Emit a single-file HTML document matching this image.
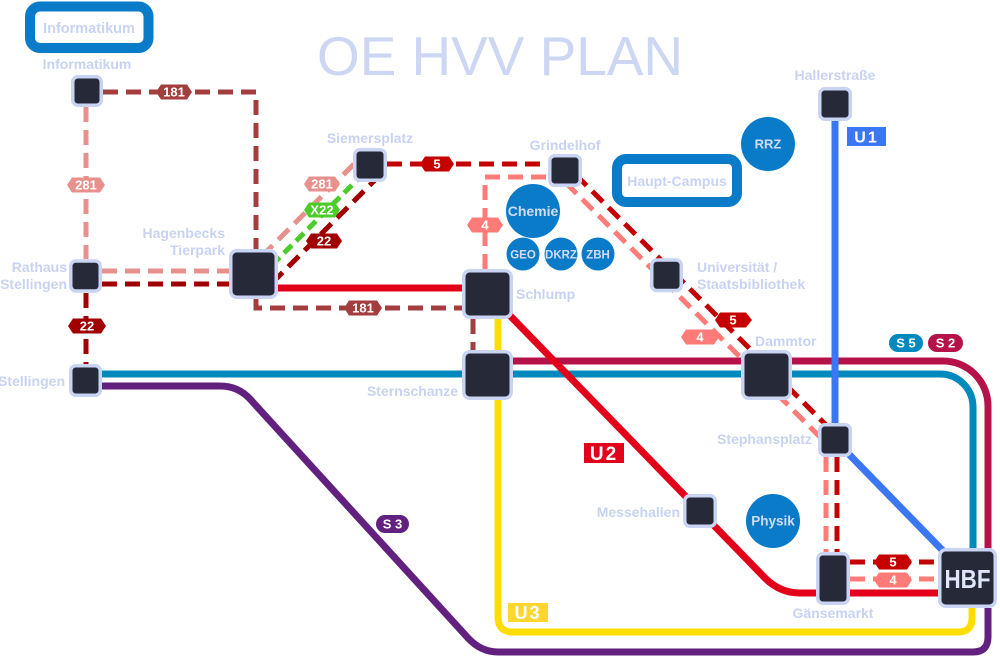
<!DOCTYPE html>
<html><head><meta charset="utf-8"><style>
html,body{margin:0;padding:0;background:#fff;}
svg{display:block;}
text{font-family:"Liberation Sans",sans-serif;}
.st{font-size:14px;font-weight:bold;fill:#c8d3f2;}
.ct{font-weight:bold;fill:#d2dcf8;text-anchor:middle;}
.lb{font-size:13px;font-weight:bold;fill:#fff;text-anchor:middle;}
.nd{fill:#262938;stroke:#c9d4f2;stroke-width:3.5;}
</style></head><body>
<svg width="1000" height="656" viewBox="0 0 1000 656" xmlns="http://www.w3.org/2000/svg">
<rect width="1000" height="656" fill="#fff"/>

<!-- title -->
<text x="500" y="75" font-size="55" fill="#cdd7f3" text-anchor="middle" textLength="366" lengthAdjust="spacingAndGlyphs">OE HVV PLAN</text>

<!-- area boxes -->
<rect x="30" y="6.5" width="118.5" height="41.5" rx="10" fill="#fff" stroke="#0a7bc8" stroke-width="10"/>
<text x="89" y="33" font-size="14.5" font-weight="bold" fill="#c8d3f2" text-anchor="middle">Informatikum</text>
<rect x="617" y="159" width="120" height="43" rx="9" fill="#fff" stroke="#0a7bc8" stroke-width="10"/>
<text x="677" y="186" font-size="14" font-weight="bold" fill="#c8d3f2" text-anchor="middle">Haupt-Campus</text>

<!-- S / U lines -->
<g fill="none" stroke-width="7">
  <path d="M102 386 H220 Q238 386 250 399 L468 638 Q481 652 498 652 H973 Q988 652 988 637 V608" stroke="#62217e"/>
  <path d="M498 319 V617 Q498 632 513 632 H958 Q972 632 972 618 V606" stroke="#ffdd00"/>
  <path d="M102 374 H940 A33 33 0 0 1 973 407 V550" stroke="#0089bd"/>
  <path d="M513 361 H943 A45 45 0 0 1 988 406 V550" stroke="#b5124a"/>
  <path d="M835 121 V440 L950 558" stroke="#3b77f5"/>
  <path d="M278 288 H465" stroke="#e2001a"/>
  <path d="M488 293 L765 578 Q780 593 800 593 H945" stroke="#e2001a"/>
</g>

<!-- bus lines -->
<g fill="none" stroke-width="5" stroke-dasharray="15 8">
  <!-- 181 -->
  <path d="M103 92 H256 V249" stroke="#a23e3e"/>
  <path d="M256 299 V308 H462" stroke="#a23e3e"/>
  <path d="M473 319 V350" stroke="#a23e3e"/>
  <!-- 281 -->
  <path d="M86 107 V259" stroke="#e8908c"/>
  <path d="M102 271 H229" stroke="#e8908c"/>
  <path d="M262 256 L360 158" stroke="#e8908c"/>
  <!-- X22 -->
  <path d="M272 265 L363 174" stroke="#4ccc2a" stroke-dasharray="11 6"/>
  <!-- 22 -->
  <path d="M86 293 V364" stroke="#a00000"/>
  <path d="M102 284 H229" stroke="#a00000"/>
  <path d="M272 283 L378 177" stroke="#a00000"/>
  <!-- 5 -->
  <path d="M387 164 H548" stroke="#c40000"/>
  <path d="M576 175 L834 433" stroke="#c40000"/>
  <path d="M837 457 V552" stroke="#c40000"/>
  <path d="M850 562 H938" stroke="#c40000"/>
  <!-- 4 -->
  <path d="M485 269 V177 H548" stroke="#ff7b78"/>
  <path d="M566 183 L824 441" stroke="#ff7b78"/>
  <path d="M826 457 V552" stroke="#ff7b78"/>
  <path d="M850 579 H938" stroke="#ff7b78"/>
</g>

<!-- bus labels -->
<g>
  <polygon points="156,92 161,84.5 187,84.5 192,92 187,99.5 161,99.5" fill="#a23e3e"/>
  <text class="lb" x="174" y="96.5">181</text>
  <polygon points="344,308 349,300.5 377,300.5 382,308 377,315.5 349,315.5" fill="#a23e3e"/>
  <text class="lb" x="363" y="312.5">181</text>
  <polygon points="67,185 72,177.5 100,177.5 105,185 100,192.5 72,192.5" fill="#e8908c"/>
  <text class="lb" x="86" y="189.5">281</text>
  <polygon points="304,184 309,176.5 335,176.5 340,184 335,191.5 309,191.5" fill="#e8908c"/>
  <text class="lb" x="322" y="188.5">281</text>
  <polygon points="304,210 309,202.5 335,202.5 340,210 335,217.5 309,217.5" fill="#4ccc2a"/>
  <text class="lb" x="322" y="214.5">X22</text>
  <polygon points="306,241 311,233.5 337,233.5 342,241 337,248.5 311,248.5" fill="#a00000"/>
  <text class="lb" x="324" y="245.5">22</text>
  <polygon points="68,326 73,318.5 101,318.5 106,326 101,333.5 73,333.5" fill="#a00000"/>
  <text class="lb" x="87" y="330.5">22</text>
  <polygon points="420,164 425,156.5 449,156.5 454,164 449,171.5 425,171.5" fill="#c40000"/>
  <text class="lb" x="437" y="168.5">5</text>
  <polygon points="467,225 472,217.5 498,217.5 503,225 498,232.5 472,232.5" fill="#ff7b78"/>
  <text class="lb" x="485" y="229.5">4</text>
  <polygon points="715,320 720,312.5 746,312.5 752,320 746,327.5 720,327.5" fill="#c40000"/>
  <text class="lb" x="733" y="324.5">5</text>
  <polygon points="681,337 686,329.5 714,329.5 719,337 714,344.5 686,344.5" fill="#ff7b78"/>
  <text class="lb" x="700" y="341.5">4</text>
  <polygon points="874,562 879,554.5 907,554.5 912,562 907,569.5 879,569.5" fill="#c40000"/>
  <text class="lb" x="893" y="566.5">5</text>
  <polygon points="874,580 879,572.5 907,572.5 912,580 907,587.5 879,587.5" fill="#ff7b78"/>
  <text class="lb" x="893" y="584.5">4</text>
</g>

<!-- line labels -->
<rect x="847" y="127" width="39" height="19" fill="#3b77f5"/>
<text x="866.5" y="142.5" font-size="16" font-weight="bold" fill="#fff" text-anchor="middle" letter-spacing="2">U1</text>
<rect x="584" y="443" width="40" height="20" fill="#e2001a"/>
<text x="604" y="460" font-size="19" font-weight="bold" fill="#fff" text-anchor="middle" letter-spacing="2">U2</text>
<rect x="508" y="603" width="40" height="19" fill="#ffd530"/>
<text x="528" y="619" font-size="18" font-weight="bold" fill="#fff" text-anchor="middle" letter-spacing="2">U3</text>
<rect x="889" y="334" width="34" height="18" rx="9" fill="#0089bd"/>
<text x="906" y="347.5" font-size="13" font-weight="bold" fill="#fff" text-anchor="middle">S 5</text>
<rect x="928" y="334" width="35" height="18" rx="9" fill="#b5124a"/>
<text x="945.5" y="347.5" font-size="13" font-weight="bold" fill="#fff" text-anchor="middle">S 2</text>
<rect x="376" y="515" width="33" height="18" rx="9" fill="#62217e"/>
<text x="392.5" y="528.5" font-size="13" font-weight="bold" fill="#fff" text-anchor="middle">S 3</text>

<!-- institute circles -->
<g fill="#0a7bc8">
  <circle cx="533" cy="211" r="27"/>
  <circle cx="523" cy="254" r="16.5"/>
  <circle cx="561" cy="254" r="16.5"/>
  <circle cx="598" cy="254" r="16.5"/>
  <circle cx="768" cy="144" r="27"/>
  <circle cx="773" cy="521" r="27"/>
</g>
<text class="ct" x="533" y="216" font-size="14">Chemie</text>
<text class="ct" x="523" y="258.5" font-size="11.5">GEO</text>
<text class="ct" x="561" y="258.5" font-size="11.5">DKRZ</text>
<text class="ct" x="598" y="258.5" font-size="11.5">ZBH</text>
<text class="ct" x="768" y="148.5" font-size="13">RRZ</text>
<text class="ct" x="773" y="525.5" font-size="13.5">Physik</text>

<!-- nodes -->
<rect class="nd" x="72.75" y="76.75" width="28.5" height="28.5" rx="5"/>
<rect class="nd" x="70.75" y="261" width="29.5" height="30" rx="5"/>
<rect class="nd" x="70.75" y="365.75" width="29.5" height="29.5" rx="5"/>
<rect class="nd" x="230.75" y="250.75" width="45.5" height="46.5" rx="6"/>
<rect class="nd" x="354.75" y="149.75" width="30.5" height="30.5" rx="5"/>
<rect class="nd" x="549.75" y="155.75" width="30.5" height="29.5" rx="5"/>
<rect class="nd" x="463.75" y="270.75" width="47.5" height="46.5" rx="6"/>
<rect class="nd" x="463.75" y="351.75" width="47.5" height="46.5" rx="6"/>
<rect class="nd" x="651.75" y="260" width="29.5" height="30.5" rx="5"/>
<rect class="nd" x="742.75" y="351.75" width="47.5" height="46.5" rx="6"/>
<rect class="nd" x="819.75" y="424.75" width="30.5" height="30.5" rx="5"/>
<rect class="nd" x="819.75" y="88.75" width="30.5" height="30.5" rx="5"/>
<rect class="nd" x="684.75" y="495.75" width="30.5" height="30.5" rx="5"/>
<rect class="nd" x="817.75" y="553.75" width="30.5" height="49.5" rx="5"/>
<rect class="nd" x="939.75" y="549.75" width="55.5" height="56.5" rx="6"/>
<text x="967.5" y="588" font-size="26" font-weight="bold" fill="#e0e7fb" text-anchor="middle" textLength="46" lengthAdjust="spacingAndGlyphs">HBF</text>

<!-- station labels -->
<text class="st" x="87" y="69" text-anchor="middle">Informatikum</text>
<text class="st" x="835" y="80" text-anchor="middle">Hallerstraße</text>
<text class="st" x="370" y="143" text-anchor="middle">Siemersplatz</text>
<text class="st" x="565" y="150" text-anchor="middle">Grindelhof</text>
<text class="st" x="225" y="238" text-anchor="end">Hagenbecks</text>
<text class="st" x="225" y="255" text-anchor="end">Tierpark</text>
<text class="st" x="67" y="272" text-anchor="end">Rathaus</text>
<text class="st" x="67" y="289" text-anchor="end">Stellingen</text>
<text class="st" x="65" y="386" text-anchor="end">Stellingen</text>
<text class="st" x="516" y="299">Schlump</text>
<text class="st" x="458" y="396" text-anchor="end">Sternschanze</text>
<text class="st" x="697" y="272">Universität /</text>
<text class="st" x="697" y="289">Staatsbibliothek</text>
<text class="st" x="755" y="346">Dammtor</text>
<text class="st" x="812" y="444" text-anchor="end">Stephansplatz</text>
<text class="st" x="680" y="517" text-anchor="end">Messehallen</text>
<text class="st" x="833" y="618" text-anchor="middle">Gänsemarkt</text>
</svg>
</body></html>
